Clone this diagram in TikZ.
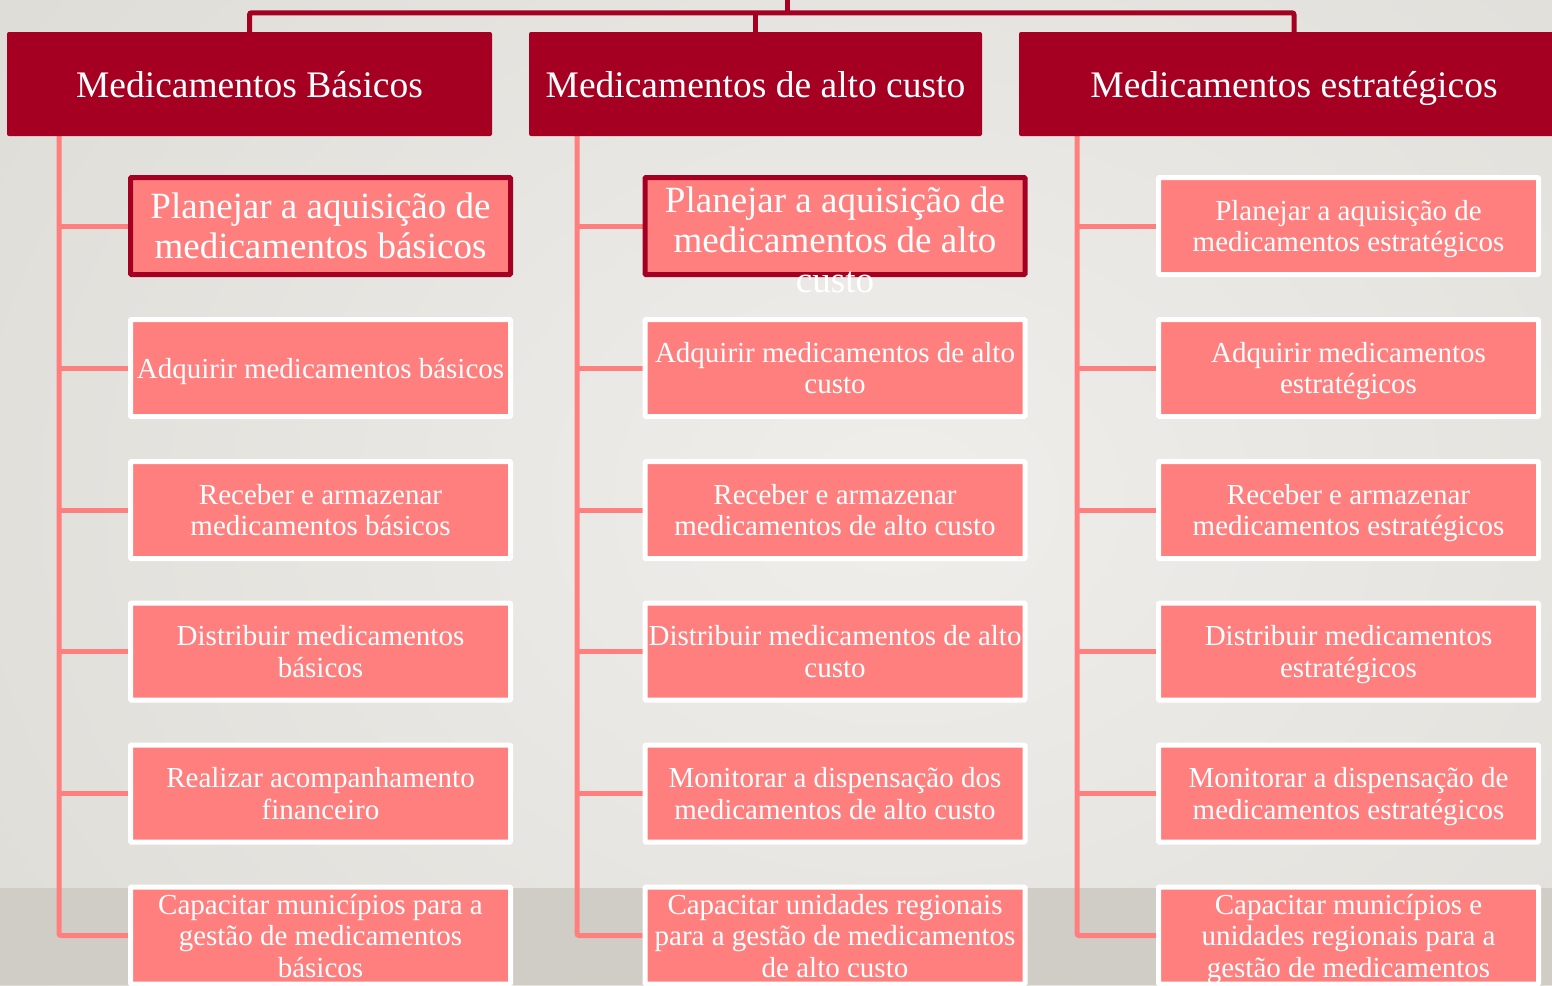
\documentclass[tikz,border=0pt]{standalone}
\usepackage{fontspec}
\setmainfont{Liberation Serif}
\definecolor{dred}{HTML}{A50021}
\definecolor{salmonbox}{HTML}{FF7F7F}
\definecolor{bginner}{HTML}{EFEEEB}
\definecolor{bgouter}{HTML}{D9D8D2}
\definecolor{bgband}{HTML}{D0CDC6}
\pgfdeclarelayer{bg}
\pgfdeclarelayer{background}
\pgfsetlayers{bg,background,main}
\begin{document}
\begin{tikzpicture}[x=1pt,y=-1pt,
  head/.style={fill=dred, rounded corners=2pt, text=white, inner sep=0,
    font=\fontsize{37.5}{40}\selectfont, minimum height=104, text depth=0pt},
  box/.style={fill=salmonbox, draw=white, line width=5pt, rounded corners=1pt,
    minimum width=380, minimum height=97, inner sep=0, text=white, align=center,
    font=\fontsize{29}{31.5}\selectfont, text depth=0pt},
  bigbox/.style={box, draw=dred, font=\fontsize{37}{40}\selectfont},
  bigtxt/.style={text=white, align=center, inner sep=0, text depth=0pt,
    font=\fontsize{37}{40}\selectfont},
  tree/.style={draw=salmonbox, line width=5pt, rounded corners=2pt},
  topline/.style={draw=dred, line width=5pt, rounded corners=2pt}]
\useasboundingbox (0,0) rectangle (1552,985);
\clip (0,0) rectangle (1552,985);
\begin{pgfonlayer}{bg}
  \fill[bgouter] (0,0) rectangle (1552,985);
  \shade[inner color=bginner, outer color=bgouter] (-500,-600) rectangle (2300,1600);
  \fill[bgband] (0,888) rectangle (1552,985);
\end{pgfonlayer}

% headers
\node[head, minimum width=485] (h1) at (249.5,84) {Medicamentos Básicos};
\node[head, minimum width=453] (h2) at (755.5,84) {Medicamentos de alto custo};
\node[head, minimum width=550] (h3) at (1294,84) {Medicamentos estratégicos};

% column 1
\node[bigbox] (b11) at (320.5,226) {Planejar a aquisição de\\medicamentos básicos};
\node[box] (b12) at (320.5,368) {Adquirir medicamentos básicos};
\node[box] (b13) at (320.5,510) {Receber e armazenar\\medicamentos básicos};
\node[box] (b14) at (320.5,651.5) {Distribuir medicamentos\\básicos};
\node[box] (b15) at (320.5,793.5) {Realizar acompanhamento\\financeiro};
\node[box] (b16) at (320.5,935.5) {Capacitar municípios para a\\gestão de medicamentos\\básicos};

% column 2
\node[bigbox] (b21) at (835,226) {};
\node[bigtxt] (t21) at (835,240) {Planejar a aquisição de\\medicamentos de alto\\custo};
\node[box] (b22) at (835,368) {Adquirir medicamentos de alto\\custo};
\node[box] (b23) at (835,510) {Receber e armazenar\\medicamentos de alto custo};
\node[box] (b24) at (835,651.5) {Distribuir medicamentos de alto\\custo};
\node[box] (b25) at (835,793.5) {Monitorar a dispensação dos\\medicamentos de alto custo};
\node[box] (b26) at (835,935.5) {Capacitar unidades regionais\\para a gestão de medicamentos\\de alto custo};

% column 3
\node[box] (b31) at (1348.5,226) {Planejar a aquisição de\\medicamentos estratégicos};
\node[box] (b32) at (1348.5,368) {Adquirir medicamentos\\estratégicos};
\node[box] (b33) at (1348.5,510) {Receber e armazenar\\medicamentos estratégicos};
\node[box] (b34) at (1348.5,651.5) {Distribuir medicamentos\\estratégicos};
\node[box] (b35) at (1348.5,793.5) {Monitorar a dispensação de\\medicamentos estratégicos};
\node[box] (b36) at (1348.5,935.5) {Capacitar municípios e\\unidades regionais para a\\gestão de medicamentos};

\coordinate (top) at (787,-5);
\coordinate (t1) at (59,130);
\coordinate (t2) at (577,130);
\coordinate (t3) at (1077,130);

\begin{pgfonlayer}{background}
  \draw[topline] (h1.north) -- ++(0,-19) -| (h3.north);
  \draw[topline] (h2.north) -- ++(0,-19);
  \draw[topline] (top) -- (top |- 0,13);
  \draw[tree] (t1) |- (b16.west);
  \draw[tree] (t2) |- (b26.west);
  \draw[tree] (t3) |- (b36.west);
  \foreach \r in {1,...,5}{
    \draw[tree] (t1 |- b1\r.west) -- (b1\r.west);
    \draw[tree] (t2 |- b2\r.west) -- (b2\r.west);
    \draw[tree] (t3 |- b3\r.west) -- (b3\r.west);
  }
\end{pgfonlayer}
\end{tikzpicture}
\end{document}
